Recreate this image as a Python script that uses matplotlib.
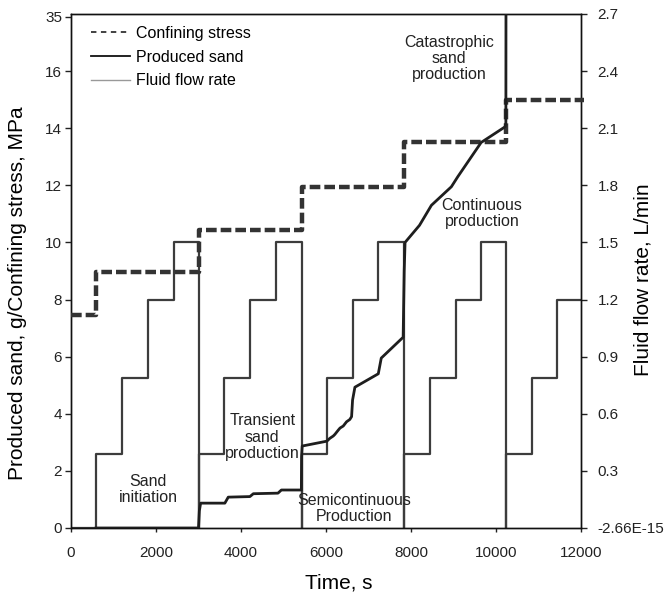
import matplotlib
matplotlib.use("Agg")
import matplotlib.pyplot as plt
from matplotlib.lines import Line2D

plt.rcParams['font.family'] = ['Liberation Sans', 'DejaVu Sans']

# ---- data ----
stress_t = [0, 600, 3010, 5430, 7830, 10235, 12080]
stress_v = [7.45, 8.95, 10.45, 11.95, 13.5, 15.0, 15.0]

sand_t = [590, 3000, 3020, 3050, 3620, 3700, 4210, 4290, 4870, 4950, 5420, 5425, 5440,
          6020, 6090, 6170, 6210, 6290, 6330, 6405, 6484, 6560, 6602, 6625, 6680,
          7230, 7300, 7815, 7840, 7860, 8200, 8480, 8950, 9100, 9650, 10215, 10232, 10235]
sand_v = [0, 0, 0.6, 0.87, 0.87, 1.08, 1.1, 1.2, 1.22, 1.33, 1.33, 2.5, 2.87,
          3.04, 3.14, 3.22, 3.28, 3.43, 3.5, 3.57, 3.72, 3.8, 3.9, 4.48, 4.93,
          5.4, 5.95, 6.68, 9.0, 10.0, 10.6, 11.3, 11.95, 12.3, 13.5, 14.05, 14.2, 19.0]

flow_t = [0, 600, 1210, 1820, 2420, 3010, 3010, 3610, 4215, 4825, 5425, 5425, 6025,
          6630, 7230, 7835, 7835, 8440, 9050, 9635, 10232, 10232, 10840, 11440, 12000]
flow_v = [0, 0.39, 0.79, 1.2, 1.5, 0, 0.39, 0.79, 1.2, 1.5, 0, 0.39, 0.79,
          1.2, 1.5, 0, 0.39, 0.79, 1.2, 1.5, 0, 0.39, 0.79, 1.2, 1.2]

left_ticks = [0, 2, 4, 6, 8, 10, 12, 14, 16, 17.9]
left_labels = ['0', '2', '4', '6', '8', '10', '12', '14', '16', '35']
right_ticks = [0, 0.3, 0.6, 0.9, 1.2, 1.5, 1.8, 2.1, 2.4, 2.7]
right_labels = ['-2.66E-15', '0.3', '0.6', '0.9', '1.2', '1.5', '1.8', '2.1', '2.4', '2.7']
x_ticks = [0, 2000, 4000, 6000, 8000, 10000, 12000]

annotations = [
    (1818, 1.35, 'Sand\ninitiation'),
    (4500, 3.18, 'Transient\nsand\nproduction'),
    (6660, 0.68, 'Semicontinuous\nProduction'),
    (9670, 11.0, 'Continuous\nproduction'),
    (8900, 16.45, 'Catastrophic\nsand\nproduction'),
]

# ---- figure ----
fig = plt.figure(figsize=(6.66, 5.97), dpi=100)
ax = fig.add_axes([0.1066, 0.1156, 0.7658, 0.861])
ax2 = ax.twinx()

ax2.plot(flow_t, flow_v, color='#3c3c3c', lw=1.6, drawstyle='steps-post', zorder=2)
ax.plot(stress_t, stress_v, color='#333333', lw=3.2, drawstyle='steps-post',
        dashes=(2.4, 0.9), zorder=3, clip_on=False)
ax.plot(sand_t, sand_v, color='#1e1e1e', lw=2.0, zorder=4)

ax.set_zorder(ax2.get_zorder() + 1)
ax.patch.set_visible(False)

ax.set_xlim(0, 12000)
ax.set_ylim(0, 18)
ax2.set_ylim(0, 2.7)

ax.set_xticks(x_ticks)
ax.set_xticklabels([str(v) for v in x_ticks])
ax.set_yticks(left_ticks)
ax.set_yticklabels(left_labels)
ax2.set_yticks(right_ticks)
ax2.set_yticklabels(right_labels)

for a in (ax, ax2):
    a.tick_params(direction='out', length=4, width=1, labelsize=11, colors='#222222')
    for s in a.spines.values():
        s.set_linewidth(1.0)
        s.set_color('#111111')
ax.tick_params(axis='x', length=3, pad=10)
ax.tick_params(axis='y', pad=2.5)
ax2.tick_params(axis='y', pad=8)

ax.set_xlabel('Time, s', fontsize=15)
ax.set_ylabel('Produced sand, g/Confining stress, MPa', fontsize=15)
ax2.set_ylabel('Fluid flow rate, L/min', fontsize=15)
ax.xaxis.set_label_coords(0.525, -0.107)
ax.xaxis.label.set_va('center')
ax.yaxis.set_label_coords(-0.104, 0.457)
ax.yaxis.label.set_va('center')
ax2.yaxis.set_label_coords(1.1216, 0.4825)
ax2.yaxis.label.set_va('center')

for x, y, t in annotations:
    ax.text(x, y, t, ha='center', va='center', fontsize=11.5, color='#222222',
            linespacing=1.1, zorder=5)

handles = [
    Line2D([], [], color='#333333', lw=1.3, dashes=(3, 2.5)),
    Line2D([], [], color='#111111', lw=1.3),
    Line2D([], [], color='#999999', lw=1.0),
]
ax.legend(handles, ['Confining stress', 'Produced sand', 'Fluid flow rate'],
          loc='upper left', bbox_to_anchor=(0.012, 1.005), frameon=False,
          fontsize=11.5, handlelength=2.4, handletextpad=0.4, labelspacing=0.55,
          borderaxespad=0.5)

fig.savefig('out.png', dpi=100)
